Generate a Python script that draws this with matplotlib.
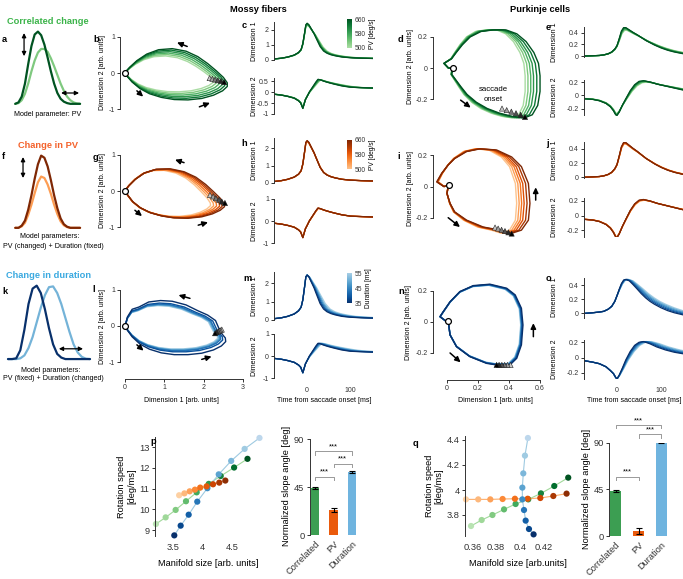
import numpy as np
import matplotlib
matplotlib.use('Agg')
import matplotlib.pyplot as plt
import matplotlib.cm as cm
from matplotlib.colors import LinearSegmentedColormap, Normalize

plt.rcParams['font.family'] = ['Liberation Sans', 'DejaVu Sans']
plt.rcParams['axes.unicode_minus'] = False
plt.rcParams['axes.linewidth'] = 0.7
plt.rcParams['axes.edgecolor'] = '#333333'
for a in ('x', 'y'):
    plt.rcParams[a + 'tick.major.width'] = 0.7
    plt.rcParams[a + 'tick.major.size'] = 2.2
    plt.rcParams[a + 'tick.major.pad'] = 1.5
    plt.rcParams[a + 'tick.color'] = '#333333'

# ---------------- data ----------------
# velocity profiles (arbitrary units)
prof_t = [0, 5, 10, 15, 20, 25, 30, 35, 40, 45, 50, 55, 60, 65, 70, 75, 80, 85, 90, 95, 100]
a_dark = [0.0, 0.02, 0.1, 0.28, 0.55, 0.8, 0.96, 1.0, 0.95, 0.82, 0.64, 0.45, 0.28, 0.15, 0.07, 0.03, 0.01, 0.0, 0.0, 0.0, 0.0]
a_light = [0.0, 0.01, 0.05, 0.14, 0.28, 0.45, 0.6, 0.71, 0.76, 0.76, 0.72, 0.63, 0.52, 0.4, 0.28, 0.18, 0.1, 0.05, 0.02, 0.005, 0.0]
f_dark = [0.0, 0.0, 0.03, 0.1, 0.25, 0.45, 0.68, 0.88, 1.0, 0.97, 0.85, 0.66, 0.45, 0.27, 0.13, 0.05, 0.015, 0.0, 0.0, 0.0, 0.0]
f_light = [0.0, 0.0, 0.02, 0.07, 0.18, 0.32, 0.48, 0.63, 0.71, 0.69, 0.6, 0.47, 0.32, 0.19, 0.09, 0.035, 0.01, 0.0, 0.0, 0.0, 0.0]
k_dark = [0.0, 0.0, 0.01, 0.12, 0.4, 0.75, 0.96, 1.0, 0.9, 0.68, 0.42, 0.2, 0.07, 0.02, 0.0, 0.0, 0.0, 0.0, 0.0, 0.0, 0.0]
k_light = [0.0, 0.0, 0.0, 0.01, 0.05, 0.15, 0.3, 0.5, 0.7, 0.87, 0.98, 0.99, 0.9, 0.75, 0.56, 0.37, 0.2, 0.09, 0.03, 0.005, 0.0]

# mossy-fiber population trajectories (outermost curve) + per-curve extents
b_x = [0.0, 0.06, 0.18, 0.38, 0.62, 0.92, 1.25, 1.6, 1.95, 2.25, 2.48, 2.6, 2.6, 2.5, 2.32, 2.1, 1.85, 1.55, 1.2, 0.85, 0.55, 0.3, 0.12, 0.02, 0.0]
b_y = [0.0, -0.1, -0.25, -0.43, -0.57, -0.67, -0.73, -0.74, -0.7, -0.61, -0.49, -0.37, -0.27, -0.12, 0.06, 0.26, 0.45, 0.6, 0.67, 0.64, 0.52, 0.34, 0.16, 0.04, 0.0]
b_sx = [0.86, 0.89, 0.92, 0.95, 0.975, 1.0]
b_sy = [0.7, 0.76, 0.82, 0.88, 0.94, 1.0]
b_tri_x = [2.15, 2.22, 2.29, 2.36, 2.44, 2.52]
b_tri_y = [-0.14, -0.16, -0.18, -0.2, -0.22, -0.25]

g_x = [0.0, 0.07, 0.2, 0.4, 0.65, 0.95, 1.25, 1.6, 1.95, 2.22, 2.42, 2.53, 2.52, 2.42, 2.25, 2.05, 1.8, 1.5, 1.15, 0.8, 0.5, 0.27, 0.1, 0.02, 0.0]
g_y = [0.0, -0.12, -0.3, -0.47, -0.6, -0.69, -0.74, -0.75, -0.71, -0.63, -0.53, -0.43, -0.35, -0.2, -0.02, 0.18, 0.38, 0.53, 0.61, 0.6, 0.5, 0.33, 0.15, 0.04, 0.0]
g_sx = [0.86, 0.89, 0.92, 0.95, 0.975, 1.0]
g_sy = [0.93, 0.95, 0.96, 0.975, 0.99, 1.0]
g_tri_x = [2.16, 2.24, 2.31, 2.39, 2.46, 2.54]
g_tri_y = [-0.11, -0.15, -0.2, -0.24, -0.29, -0.33]

l_x = [0.0, 0.06, 0.18, 0.38, 0.62, 0.92, 1.25, 1.6, 1.95, 2.25, 2.45, 2.56, 2.55, 2.45, 2.38, 2.3, 2.1, 1.85, 1.55, 1.2, 0.9, 0.6, 0.35, 0.18, 0.06, 0.0]
l_y = [0.0, -0.12, -0.3, -0.5, -0.64, -0.74, -0.79, -0.79, -0.75, -0.66, -0.55, -0.43, -0.33, -0.2, -0.05, 0.15, 0.3, 0.42, 0.58, 0.68, 0.7, 0.66, 0.52, 0.46, 0.25, 0.0]
l_sx = [0.92, 0.93, 0.94, 0.95, 0.97, 1.0]
l_sy = [0.8, 0.82, 0.84, 0.86, 0.9, 1.0]
l_tri_x = [2.46, 2.43, 2.4, 2.37, 2.33, 2.29]
l_tri_y = [-0.1, -0.12, -0.13, -0.15, -0.17, -0.2]

# Purkinje-cell population trajectories
d_x = [0.04, 0.03, 0.06, 0.09, 0.13, 0.19, 0.26, 0.34, 0.42, 0.5, 0.55, 0.585, 0.6, 0.6, 0.59, 0.56, 0.51, 0.45, 0.38, 0.3, 0.22, 0.15, 0.1, 0.06, 0.03, -0.02, 0.01, 0.04]
d_y = [0.0, -0.04, -0.08, -0.12, -0.17, -0.22, -0.26, -0.29, -0.31, -0.32, -0.3, -0.24, -0.15, -0.05, 0.03, 0.1, 0.17, 0.22, 0.245, 0.245, 0.235, 0.2, 0.15, 0.1, 0.06, 0.03, 0.0, 0.0]
d_sx = [0.84, 0.87, 0.9, 0.93, 0.965, 1.0]
d_tri_x = [0.355, 0.385, 0.415, 0.445, 0.475, 0.503]
d_tri_y = [-0.26, -0.27, -0.28, -0.29, -0.3, -0.314]

i_x = [0.01, 0.0, 0.02, 0.05, 0.127, 0.234, 0.342, 0.417, 0.48, 0.525, 0.535, 0.525, 0.48, 0.417, 0.32, 0.213, 0.127, 0.05, 0.008, -0.034, -0.066, -0.02, 0.01]
i_y = [0.01, -0.044, -0.108, -0.163, -0.216, -0.26, -0.28, -0.3, -0.28, -0.216, -0.108, 0.02, 0.128, 0.19, 0.235, 0.242, 0.225, 0.18, 0.139, 0.085, 0.03, 0.0, 0.01]
i_sx = [0.84, 0.87, 0.9, 0.93, 0.965, 1.0]
i_tri_x = [0.31, 0.33, 0.352, 0.374, 0.396, 0.417]
i_tri_y = [-0.263, -0.27, -0.278, -0.286, -0.294, -0.302]

n_x = [0.008, 0.02, 0.062, 0.148, 0.256, 0.32, 0.406, 0.45, 0.48, 0.49, 0.48, 0.44, 0.385, 0.277, 0.17, 0.084, 0.02, -0.024, -0.045, 0.0, 0.008]
n_y = [0.008, -0.084, -0.16, -0.224, -0.267, -0.277, -0.277, -0.234, -0.148, -0.02, 0.088, 0.174, 0.217, 0.243, 0.234, 0.196, 0.13, 0.066, 0.034, 0.0, 0.008]
n_sx = [0.97, 0.975, 0.98, 0.985, 0.99, 1.0]
n_tri_x = [0.41, 0.39, 0.372, 0.354, 0.336, 0.32]
n_tri_y = [-0.277, -0.277, -0.277, -0.277, -0.277, -0.277]

# time courses
mf_t1 = [-77, -60, -45, -30, -20, -14, -10, -6, -3, 0, 4, 8, 12, 16, 20, 25, 30, 38, 46, 55, 65, 80, 100, 125, 153]
mf_dim1 = [0.07, 0.12, 0.2, 0.33, 0.5, 0.7, 1.1, 1.8, 2.35, 2.45, 2.35, 2.15, 1.95, 1.75, 1.5, 1.2, 0.9, 0.6, 0.45, 0.35, 0.28, 0.2, 0.15, 0.12, 0.1]
mf_t2 = [-77, -60, -45, -30, -20, -15, -10, -7, -4, 0, 5, 10, 15, 20, 25, 30, 38, 46, 55, 65, 80, 100, 125, 153]
mf_dim2 = [-0.1, -0.14, -0.2, -0.28, -0.4, -0.5, -0.75, -0.55, -0.35, -0.2, 0.0, 0.15, 0.3, 0.45, 0.58, 0.56, 0.5, 0.45, 0.4, 0.35, 0.28, 0.22, 0.2, 0.18]
pc_t1 = [-75, -55, -40, -30, -20, -12, -5, 0, 5, 10, 15, 20, 28, 36, 45, 55, 65, 75, 85, 100, 115, 130, 150]
pc_dim1 = [0.0, 0.005, 0.01, 0.02, 0.04, 0.07, 0.12, 0.18, 0.3, 0.43, 0.49, 0.49, 0.45, 0.41, 0.37, 0.32, 0.27, 0.23, 0.19, 0.14, 0.1, 0.07, 0.04]
pc_t2 = [-75, -55, -40, -25, -15, -8, -3, 0, 5, 12, 20, 30, 40, 50, 60, 75, 90, 110, 130, 150]
pc_dim2 = [-0.05, -0.06, -0.08, -0.12, -0.17, -0.23, -0.29, -0.3, -0.25, -0.15, -0.05, 0.07, 0.16, 0.21, 0.22, 0.2, 0.17, 0.14, 0.11, 0.08]
o_dim1 = [0.0, 0.01, 0.02, 0.03, 0.06, 0.1, 0.17, 0.25, 0.34, 0.42, 0.47, 0.48, 0.46, 0.41, 0.35, 0.28, 0.22, 0.17, 0.13, 0.08, 0.04, 0.01, -0.02]
o_dim2 = [-0.04, -0.06, -0.08, -0.12, -0.17, -0.21, -0.26, -0.28, -0.23, -0.14, -0.03, 0.08, 0.16, 0.2, 0.21, 0.18, 0.14, 0.1, 0.07, 0.05]
c_stretch = [1.25, 1.2, 1.15, 1.1, 1.05, 1.0]
c_amp = [0.94, 0.95, 0.96, 0.97, 0.99, 1.0]
e_stretch = [1.15, 1.12, 1.09, 1.06, 1.03, 1.0]
e_amp = [0.9, 0.92, 0.94, 0.96, 0.98, 1.0]
h_stretch = [1.04, 1.03, 1.02, 1.01, 1.005, 1.0]
h_amp = [0.97, 0.975, 0.98, 0.99, 0.995, 1.0]
j_stretch = [1.05, 1.04, 1.03, 1.02, 1.01, 1.0]
j_amp = [0.95, 0.96, 0.97, 0.98, 0.99, 1.0]
m_stretch = [1.4, 1.3, 1.22, 1.14, 1.07, 1.0]
o_stretch = [1.3, 1.24, 1.18, 1.12, 1.06, 1.0]
flat_amp = [1.0, 1.0, 1.0, 1.0, 1.0, 1.0]

# summary scatter (index 0 = lightest for green/orange, darkest for blue)
p_green_x = [3.203, 3.369, 3.54, 3.717, 3.90, 4.106, 4.311, 4.54, 4.769]
p_green_y = [9.29, 9.61, 9.97, 10.39, 10.82, 11.23, 11.61, 12.02, 12.44]
p_orange_x = [3.60, 3.69, 3.78, 3.87, 3.96, 4.07, 4.18, 4.286, 4.39]
p_orange_y = [10.68, 10.77, 10.87, 10.95, 11.05, 11.11, 11.21, 11.29, 11.39]
p_blue_x = [3.517, 3.626, 3.763, 3.91, 4.083, 4.277, 4.49, 4.72, 4.974]
p_blue_y = [8.74, 9.21, 9.74, 10.37, 11.02, 11.69, 12.34, 12.92, 13.45]
q_green_x = [0.3589, 0.3679, 0.377, 0.3868, 0.3966, 0.4073, 0.418, 0.4293, 0.4411]
q_green_y = [3.712, 3.76, 3.80, 3.845, 3.888, 3.925, 3.973, 4.032, 4.099]
q_orange_x = [0.3546, 0.365, 0.3752, 0.3856, 0.396, 0.4068, 0.4175, 0.4285, 0.4397]
q_orange_y = [3.925, 3.925, 3.925, 3.928, 3.93, 3.93, 3.936, 3.952, 3.971]
q_blue_x = [0.4118, 0.4079, 0.4051, 0.4037, 0.4023, 0.4023, 0.4031, 0.4045, 0.407]
q_blue_y = [3.645, 3.688, 3.755, 3.84, 3.925, 4.019, 4.133, 4.275, 4.416]

bar_cats = ['Correlated', 'PV', 'Duration']
p_bar = [44.5, 23.5, 59.0]
p_err = [1.0, 1.6, 0.8]
q_bar = [43.5, 5.0, 90.5]
q_err = [1.0, 3.0, 0.6]

# ---------------- style ----------------
W, H = 683, 579
fig = plt.figure(figsize=(W / 100, H / 100), dpi=100)

GREEN_T = '#3cb44a'
ORANGE_T = '#f4612a'
BLUE_T = '#3aa9e0'
greens = [cm.Greens(v) for v in np.linspace(0.35, 0.95, 6)]
oranges = [cm.Oranges(v) for v in np.linspace(0.3, 1.0, 6)]
blues = [cm.Blues(v) for v in np.linspace(0.35, 1.0, 6)]
grays = [str(v) for v in np.linspace(0.78, 0.0, 6)]
FS = 5.0
FB = 6.7


def box(l, t, r, b):
    ax = fig.add_axes([l / W, 1 - b / H, (r - l) / W, (b - t) / H])
    ax.patch.set_visible(False)
    return ax


def ftext(x, y, s, **kw):
    fig.text(x / W, 1 - y / H, s, **kw)


def left_axis(ax, ticks, bounds, fs=FS):
    for s in ('top', 'right', 'bottom'):
        ax.spines[s].set_visible(False)
    ax.spines['left'].set_bounds(*bounds)
    ax.set_yticks(ticks)
    ax.set_yticklabels([('%g' % t) for t in ticks], fontsize=fs)
    ax.set_xticks([])


def arrow(ax, tail, head, ms=7):
    ax.annotate('', xy=head, xytext=tail,
                arrowprops=dict(arrowstyle='-|>,head_length=0.45,head_width=0.22',
                                color='k', lw=1.1, shrinkA=0, shrinkB=0, mutation_scale=ms))


def darrow(ax, p0, p1):
    ax.annotate('', xy=p0, xytext=p1,
                arrowprops=dict(arrowstyle='<|-|>', color='k', lw=0.9, mutation_scale=6, shrinkA=0, shrinkB=0))


# ---------------- titles ----------------
ftext(258, 10, 'Mossy fibers', fontsize=FB, fontweight='bold', ha='center', va='center')
ftext(540, 10, 'Purkinje cells', fontsize=FB, fontweight='bold', ha='center', va='center')
ftext(7, 21, 'Correlated change', fontsize=FB, fontweight='bold', color=GREEN_T, va='center')
ftext(18, 145, 'Change in PV', fontsize=FB, fontweight='bold', color=ORANGE_T, va='center')
ftext(6, 275, 'Change in duration', fontsize=FB, fontweight='bold', color=BLUE_T, va='center')

letters = {'a': (2, 40), 'b': (93, 40), 'c': (242, 26), 'd': (398, 40), 'e': (546, 28),
           'f': (2, 156), 'g': (93, 158), 'h': (241, 143), 'i': (397, 157), 'j': (546, 143),
           'k': (2, 292), 'l': (92, 290), 'm': (243, 278), 'n': (398, 292), 'o': (546, 279),
           'p': (150, 441), 'q': (413, 443)}
for k, (x, y) in letters.items():
    ftext(x, y, k, fontsize=FB, fontweight='bold', va='center', ha='left')

# ---------------- velocity profiles ----------------
def profile(ax, dark, light, cd, cl, xlim, ylim):
    ax.plot(prof_t, light, color=cl, lw=1.6, solid_capstyle='round', clip_on=False)
    ax.plot(prof_t, dark, color=cd, lw=1.6, solid_capstyle='round', clip_on=False)
    ax.set_xlim(*xlim)
    ax.set_ylim(*ylim)
    ax.axis('off')

ax = box(12, 28, 82, 106)
profile(ax, a_dark, a_light, greens[5], greens[1], (-5, 103), (-0.03, 1.05))
darrow(ax, (13.6, 0.98), (13.6, 0.66))
darrow(ax, (70.7, 0.15), (98.5, 0.15))
ftext(48, 114, 'Model parameter: PV', fontsize=5.1, ha='center', va='center')

ax = box(12, 152, 82, 230)
profile(ax, f_dark, f_light, oranges[5], oranges[1], (-5, 103), (-0.03, 1.05))
darrow(ax, (12, 0.98), (12, 0.69))
ftext(50, 237, 'Model parameters:', fontsize=5.1, ha='center', va='center')
ftext(53, 246, 'PV (changed) + Duration (fixed)', fontsize=5.1, ha='center', va='center')

ax = box(8, 282, 90, 362)
profile(ax, k_dark, k_light, blues[5], blues[1], (0, 100), (-0.04, 1.05))
darrow(ax, (62, 0.14), (91.5, 0.14))
ftext(51, 370, 'Model parameters:', fontsize=5.1, ha='center', va='center')
ftext(53, 379, 'PV (fixed) + Duration (changed)', fontsize=5.1, ha='center', va='center')

# ---------------- trajectories ----------------
def traj(ax, bx, by, sx, sy, cols, tx, ty):
    bx = np.asarray(bx); by = np.asarray(by)
    for s1, s2, c in zip(sx, sy, cols):
        ax.plot(bx * s1, by * s2, color=c, lw=1.0, solid_joinstyle='round')
    ax.scatter(tx, ty, marker='^', s=14, c=grays, edgecolors='#222222', linewidths=0.4, zorder=5)
    ax.plot(bx[0], by[0], 'o', mfc='white', mec='k', ms=4.2, mew=0.9, zorder=6)

one6 = [1.0] * 6

# b
ax = box(120, 33, 243, 113)
traj(ax, b_x, b_y, b_sx, b_sy, greens, b_tri_x, b_tri_y)
ax.set_xlim(-0.13, 3.0); ax.set_ylim(-1.1, 1.1)
left_axis(ax, [-1, 0, 1], (-1, 1))
arrow(ax, (1.58, 0.73), (1.32, 0.84)); arrow(ax, (0.3, -0.49), (0.46, -0.65)); arrow(ax, (1.89, -0.93), (2.16, -0.82))
ftext(103, 73, 'Dimension 2 [arb. units]', fontsize=FS, rotation=90, ha='center', va='center')

# g
ax = box(120, 151, 243, 231)
traj(ax, g_x, g_y, g_sx, g_sy, oranges, g_tri_x, g_tri_y)
ax.set_xlim(-0.13, 3.0); ax.set_ylim(-1.1, 1.1)
left_axis(ax, [-1, 0, 1], (-1, 1))
arrow(ax, (1.5, 0.78), (1.27, 0.86)); arrow(ax, (0.25, -0.53), (0.43, -0.69)); arrow(ax, (1.86, -0.94), (2.11, -0.86))
ftext(103, 191, 'Dimension 2 [arb. units]', fontsize=FS, rotation=90, ha='center', va='center')

# l
ax = box(120, 286, 243, 379)
traj(ax, l_x, l_y, l_sx, l_sy, blues, l_tri_x, l_tri_y)
ax.set_xlim(-0.13, 3.0); ax.set_ylim(-1.46, 1.1)
left_axis(ax, [-1, 0, 1], (-1, 1))
ax.spines['bottom'].set_visible(True); ax.spines['bottom'].set_bounds(0, 3)
ax.set_xticks([0, 1, 2, 3]); ax.set_xticklabels(['0', '1', '2', '3'], fontsize=FS)
arrow(ax, (1.65, 0.76), (1.36, 0.85)); arrow(ax, (0.3, -0.52), (0.47, -0.68)); arrow(ax, (1.95, -0.92), (2.2, -0.84))
ftext(103, 326, 'Dimension 2 [arb. units]', fontsize=FS, rotation=90, ha='center', va='center')
ftext(181, 401, 'Dimension 1 [arb. units]', fontsize=FS, ha='center', va='center')

# d
ax = box(433, 26, 545, 121)
traj(ax, d_x, d_y, d_sx, one6, greens, d_tri_x, d_tri_y)
ax.set_xlim(-0.09, 0.632); ax.set_ylim(-0.34, 0.27)
left_axis(ax, [-0.2, 0, 0.2], (-0.2, 0.2))
arrow(ax, (0.277, 0.29), (0.2, 0.29)); arrow(ax, (0.647, -0.077), (0.647, -0.002)); arrow(ax, (0.088, -0.206), (0.153, -0.254))
ax.text(0.3, -0.14, 'saccade', fontsize=5.6, ha='center', va='center')
ax.text(0.3, -0.205, 'onset', fontsize=5.6, ha='center', va='center')
ftext(410, 66, 'Dimension 2 [arb. units]', fontsize=FS, rotation=90, ha='center', va='center')

# i
ax = box(433, 144.5, 545, 239.5)
traj(ax, i_x, i_y, i_sx, one6, oranges, i_tri_x, i_tri_y)
ax.set_xlim(-0.09, 0.632); ax.set_ylim(-0.34, 0.27)
left_axis(ax, [-0.2, 0, 0.2], (-0.2, 0.2))
arrow(ax, (0.2, 0.28), (0.116, 0.28)); arrow(ax, (0.572, -0.087), (0.572, -0.005)); arrow(ax, (0.008, -0.2), (0.084, -0.26))
ftext(410, 188, 'Dimension 2 [arb. units]', fontsize=FS, rotation=90, ha='center', va='center')

# n
ax = box(433, 280, 545, 380)
traj(ax, n_x, n_y, n_sx, n_sx, blues, n_tri_x, n_tri_y)
ax.set_xlim(-0.09, 0.632); ax.set_ylim(-0.374, 0.27)
left_axis(ax, [-0.2, 0, 0.2], (-0.2, 0.2))
ax.spines['bottom'].set_visible(True); ax.spines['bottom'].set_bounds(0, 0.6)
ax.set_xticks([0, 0.2, 0.4, 0.6]); ax.set_xticklabels(['0', '0.2', '0.4', '0.6'], fontsize=FS)
arrow(ax, (0.2, 0.277), (0.116, 0.277)); arrow(ax, (0.557, -0.095), (0.557, -0.008)); arrow(ax, (0.02, -0.2), (0.088, -0.26))
ftext(408, 322, 'Dimension 2 [arb. units]', fontsize=FS, rotation=90, ha='center', va='center')
ftext(495, 401, 'Dimension 1 [arb. units]', fontsize=FS, ha='center', va='center')

# ---------------- time courses ----------------
def tc(ax, t, v, stretch, amp, cols, xlim, ylim, ticks):
    t = np.asarray(t, float); v = np.asarray(v, float)
    for st, a, c in zip(stretch, amp, cols):
        ax.plot(np.where(t > 0, t * st, t), v * a, color=c, lw=0.9)
    ax.set_xlim(*xlim); ax.set_ylim(*ylim)
    left_axis(ax, ticks, ylim)

MFX = (-77, 153)
PCX = (-75, 150)
# c
ax = box(274, 22, 373, 60); tc(ax, mf_t1, mf_dim1, c_stretch, c_amp, greens, MFX, (0, 2.53), [0, 1, 2])
ax = box(274, 78, 373, 114); tc(ax, mf_t2, mf_dim2, c_stretch, c_amp, greens, MFX, (-1, 0.64), [-1, -0.5, 0, 0.5])
# e
ax = box(584, 27, 683, 57.2); tc(ax, pc_t1, pc_dim1, e_stretch, e_amp, greens, PCX, (-0.02, 0.5), [0, 0.2, 0.4])
ax = box(584, 80, 683, 115.5); tc(ax, pc_t2, pc_dim2, e_stretch, e_amp, greens, PCX, (-0.3, 0.23), [-0.2, 0, 0.2])
# h
ax = box(274, 138, 373, 182.7); tc(ax, mf_t1, mf_dim1, h_stretch, h_amp, oranges, MFX, (0, 2.6), [0, 1, 2])
ax = box(274, 198.7, 373, 243.3); tc(ax, mf_t2, mf_dim2, h_stretch, h_amp, oranges, MFX, (-1, 1), [-1, 0, 1])
# j
ax = box(584, 141.8, 683, 178.3); tc(ax, pc_t1, pc_dim1, j_stretch, j_amp, oranges, PCX, (-0.015, 0.5), [0, 0.2, 0.4])
ax = box(584, 198, 683, 237); tc(ax, pc_t2, pc_dim2, j_stretch, j_amp, oranges, PCX, (-0.29, 0.24), [-0.2, 0, 0.2])
# m
ax = box(274, 272.3, 373, 320); tc(ax, mf_t1, mf_dim1, m_stretch, flat_amp, blues, MFX, (0, 2.6), [0, 1, 2])
ax = box(274, 334, 373, 378.3); tc(ax, mf_t2, mf_dim2, m_stretch, flat_amp, blues, MFX, (-1, 1), [-1, 0, 1])
ax.set_xticks([0, 100]); ax.set_xticklabels(['0', '100'], fontsize=FS)
ax.tick_params(axis='x', length=0, pad=6)
ftext(324, 401, 'Time from saccade onset [ms]', fontsize=5.0, ha='center', va='center')
# o
ax = box(584, 278, 683, 317.7); tc(ax, pc_t1, o_dim1, o_stretch, flat_amp, blues, PCX, (-0.06, 0.5), [0, 0.2, 0.4])
ax = box(584, 340, 683, 379); tc(ax, pc_t2, o_dim2, o_stretch, flat_amp, blues, PCX, (-0.28, 0.23), [-0.2, 0, 0.2])
ax.set_xticks([0, 100]); ax.set_xticklabels(['0', '100'], fontsize=FS)
ax.tick_params(axis='x', length=0, pad=6)
ftext(634, 401, 'Time from saccade onset [ms]', fontsize=5.0, ha='center', va='center')

for (x, y1, y2) in [(254, 41, 96), (555, 42, 97), (254, 160, 221), (555, 160, 217), (254, 296, 356), (555, 297, 359)]:
    ftext(x, y1, 'Dimension 1', fontsize=FS, rotation=90, ha='center', va='center')
    ftext(x, y2, 'Dimension 2', fontsize=FS, rotation=90, ha='center', va='center')

# colorbars
def cbar(l, t, r, b, cols, vmin, vmax, ticks, label):
    cax = box(l, t, r, b)
    cmap = LinearSegmentedColormap.from_list('c', cols)
    sm = cm.ScalarMappable(norm=Normalize(vmin, vmax), cmap=cmap)
    cb = fig.colorbar(sm, cax=cax)
    cb.outline.set_visible(False)
    cb.set_ticks(ticks)
    cb.set_ticklabels([str(t) for t in ticks])
    cax.tick_params(length=0, labelsize=4.8, pad=1.5)
    cb.set_label(label, fontsize=4.8, labelpad=2.5)

cbar(347, 19, 352.3, 47.7, greens, 500, 660, [500, 580, 660], 'PV [deg/s]')
cbar(347, 140, 352.3, 169.3, oranges, 500, 660, [500, 580, 660], 'PV [deg/s]')
cbar(347, 273.3, 352.3, 303.3, blues[::-1], 35, 55, [35, 45, 55], 'Duration [ms]')

# ---------------- summary ----------------
sc_green = [cm.Greens(v) for v in np.linspace(0.3, 0.95, 9)]
sc_orange = [cm.Oranges(v) for v in np.linspace(0.25, 0.95, 9)]
sc_blue = [cm.Blues(v) for v in np.linspace(1.0, 0.28, 9)]

def scatter_panel(ax, series):
    for xs, ys, cols, lc in series:
        ax.plot(xs, ys, color=lc, lw=0.8, zorder=1, clip_on=False)
        ax.scatter(xs, ys, c=cols, s=20, zorder=2, clip_on=False, linewidths=0)

# p scatter
ax = box(155, 436.7, 261, 536)
scatter_panel(ax, [(p_green_x, p_green_y, sc_green, '#a1d99b'),
                   (p_blue_x, p_blue_y, sc_blue, '#9ecae1'),
                   (p_orange_x, p_orange_y, sc_orange, '#fdae6b')])
ax.set_xlim(3.187, 5.0); ax.set_ylim(8.71, 13.51)
for s in ('top', 'right', 'bottom'):
    ax.spines[s].set_visible(False)
ax.set_yticks([9, 10, 11, 12, 13]); ax.set_yticklabels(['9', '10', '11', '12', '13'], fontsize=FB)
ax.set_xticks([3.5, 4, 4.5]); ax.set_xticklabels(['3.5', '4', '4.5'], fontsize=FB)
ax.tick_params(axis='x', length=0, pad=5)
ax.tick_params(axis='y', length=2.5)
ax.set_ylabel('Rotation speed\n[deg/ms]', fontsize=FB, labelpad=2, linespacing=1.1)
ax.set_xlabel('Manifold size [arb. units]', fontsize=FB, labelpad=5)

# q scatter
ax = box(465, 436, 570, 536)
scatter_panel(ax, [(q_green_x, q_green_y, sc_green, '#a1d99b'),
                   (q_orange_x, q_orange_y, sc_orange, '#fdae6b'),
                   (q_blue_x, q_blue_y, sc_blue, '#9ecae1')])
ax.set_xlim(0.3538, 0.4426); ax.set_ylim(3.632, 4.432)
for s in ('top', 'right', 'bottom'):
    ax.spines[s].set_visible(False)
ax.set_yticks([3.8, 4.0, 4.2, 4.4]); ax.set_yticklabels(['3.8', '4', '4.2', '4.4'], fontsize=FB)
ax.set_xticks([0.36, 0.38, 0.40, 0.42]); ax.set_xticklabels(['0.36', '0.38', '0.4', '0.42'], fontsize=FB)
ax.tick_params(axis='x', length=0, pad=5)
ax.tick_params(axis='y', length=2.5)
ax.set_ylabel('Rotation speed\n[deg/ms]', fontsize=FB, labelpad=2, linespacing=1.1)
ax.set_xlabel('Manifold size [arb.units]', fontsize=FB, labelpad=5)

BAR_COLS = ['#3c9e52', '#ea5a0c', '#6fb4df']

def bar_panel(ax, vals, errs, brackets, ylim, xlim):
    x = np.arange(3)
    ax.bar(x, vals, width=0.46, color=BAR_COLS)
    ax.errorbar(x, vals, yerr=errs, fmt='none', ecolor='k', elinewidth=0.8, capsize=2.2, capthick=0.8)
    for (i0, i1, yb) in brackets:
        ax.plot([i0, i0, i1, i1], [yb - 3, yb, yb, yb - 3], color='#999999', lw=0.7, clip_on=False)
        ax.text((i0 + i1) / 2, yb + 1, '***', ha='center', va='bottom', fontsize=5.5, clip_on=False)
    ax.set_xlim(*xlim); ax.set_ylim(*ylim)
    for s in ('top', 'right', 'bottom'):
        ax.spines[s].set_visible(False)
    ax.spines['left'].set_bounds(0, 90)
    ax.set_yticks([0, 45, 90]); ax.set_yticklabels(['0', '45', '90'], fontsize=FB)
    ax.set_xticks(x); ax.set_xticklabels(bar_cats, fontsize=FB, rotation=45, ha='right', rotation_mode='anchor')
    ax.tick_params(axis='x', length=0, pad=3)
    ax.tick_params(axis='y', length=2.5)
    ax.set_ylabel('Normalized slope angle [deg]', fontsize=FB, labelpad=2)

ax = box(310, 436, 357, 535.3)
bar_panel(ax, p_bar, p_err, [(0, 1, 55), (1, 2, 67), (0, 2, 78.5)], (0, 93), (-0.26, 2.26))
ax = box(609.3, 442.7, 667.7, 536)
bar_panel(ax, q_bar, q_err, [(0, 1, 57), (1, 2, 98), (0, 2, 107)], (0, 90), (-0.27, 2.27))

fig.savefig('out.png', dpi=100)
